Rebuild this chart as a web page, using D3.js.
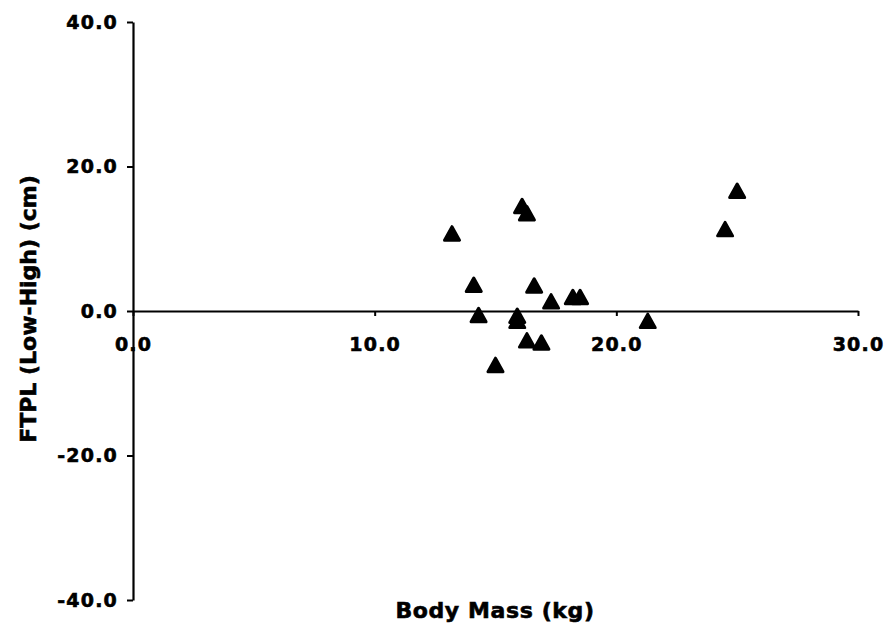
<!DOCTYPE html>
<html>
<head>
<meta charset="utf-8">
<script src="https://cdn.jsdelivr.net/npm/d3@7"></script>
<style>
  body { margin: 0; background: #fff; }
  text { font-family: 'DejaVu Sans', sans-serif; font-weight: bold; fill: #000; stroke: #000; stroke-width: 0.6px; }
</style>
</head>
<body>
<div id="chart"></div>
<script>
// body mass (kg) and FTPL difference (cm)
const bodyMass = [16.1, 16.3, 13.2, 14.1, 16.6, 17.3, 18.2, 18.5, 14.3, 15.9, 15.9, 16.3, 16.9, 15.0, 25.0, 24.5, 21.3];
const ftpl = [14.5, 13.5, 10.7, 3.6, 3.5, 1.3, 1.9, 1.9, -0.6, -0.7, -1.4, -4.1, -4.4, -7.5, 16.6, 11.3, -1.4];
const xTicks = [0, 10, 20, 30];
const yTicks = [-40, -20, 0, 20, 40];

const width = 884, height = 628;

const svg = d3.select('#chart')
  .append('svg')
  .attr('width', width)
  .attr('height', height);

const x = d3.scaleLinear().domain([0, 30]).range([133, 858]);
const y = d3.scaleLinear().domain([-40, 40]).range([600, 22]);

// plain hyphen for negatives, like the original
const fmt = d => d.toFixed(1);

// y axis
const yAxis = svg.append('g')
  .attr('transform', `translate(${x(0)},0)`)
  .call(d3.axisLeft(y).tickValues(yTicks).tickFormat(fmt).tickSize(6).tickSizeOuter(0).tickPadding(9));
yAxis.select('.domain').attr('stroke-width', 2.2);
yAxis.selectAll('.tick line').attr('stroke-width', 2);
yAxis.selectAll('.tick text').attr('font-size', 19).attr('letter-spacing', 1.2);

// x axis drawn along y = 0
const xAxis = svg.append('g')
  .attr('transform', `translate(0,${y(0)})`)
  .call(d3.axisBottom(x).tickValues(xTicks).tickFormat(fmt).tickSize(5).tickSizeOuter(0).tickPadding(22));
xAxis.select('.domain').attr('stroke-width', 2.2);
xAxis.selectAll('.tick line').attr('stroke-width', 2);
xAxis.selectAll('.tick text').attr('font-size', 19).attr('letter-spacing', 1.2);

// axis titles
svg.append('text')
  .attr('x', 495)
  .attr('y', 618)
  .attr('text-anchor', 'middle')
  .attr('font-size', 22)
  .attr('letter-spacing', 0.6)
  .text('Body Mass (kg)');

svg.append('text')
  .attr('transform', 'translate(36,309) rotate(-90)')
  .attr('text-anchor', 'middle')
  .attr('font-size', 22)
  .text('FTPL (Low-High) (cm)');

// triangles: bbox centred on the data point
const tri = d3.path();
tri.moveTo(0, -7);
tri.lineTo(7.5, 6.5);
tri.lineTo(-7.5, 6.5);
tri.closePath();

svg.selectAll('.pt')
  .data(bodyMass.map((m, i) => [m, ftpl[i]]))
  .enter()
  .append('path')
  .attr('class', 'pt')
  .attr('d', tri.toString())
  .attr('transform', d => `translate(${x(d[0])},${y(d[1])})`)
  .attr('fill', '#000')
  .attr('stroke', '#000')
  .attr('stroke-width', 3)
  .attr('stroke-linejoin', 'round');
</script>
</body>
</html>
